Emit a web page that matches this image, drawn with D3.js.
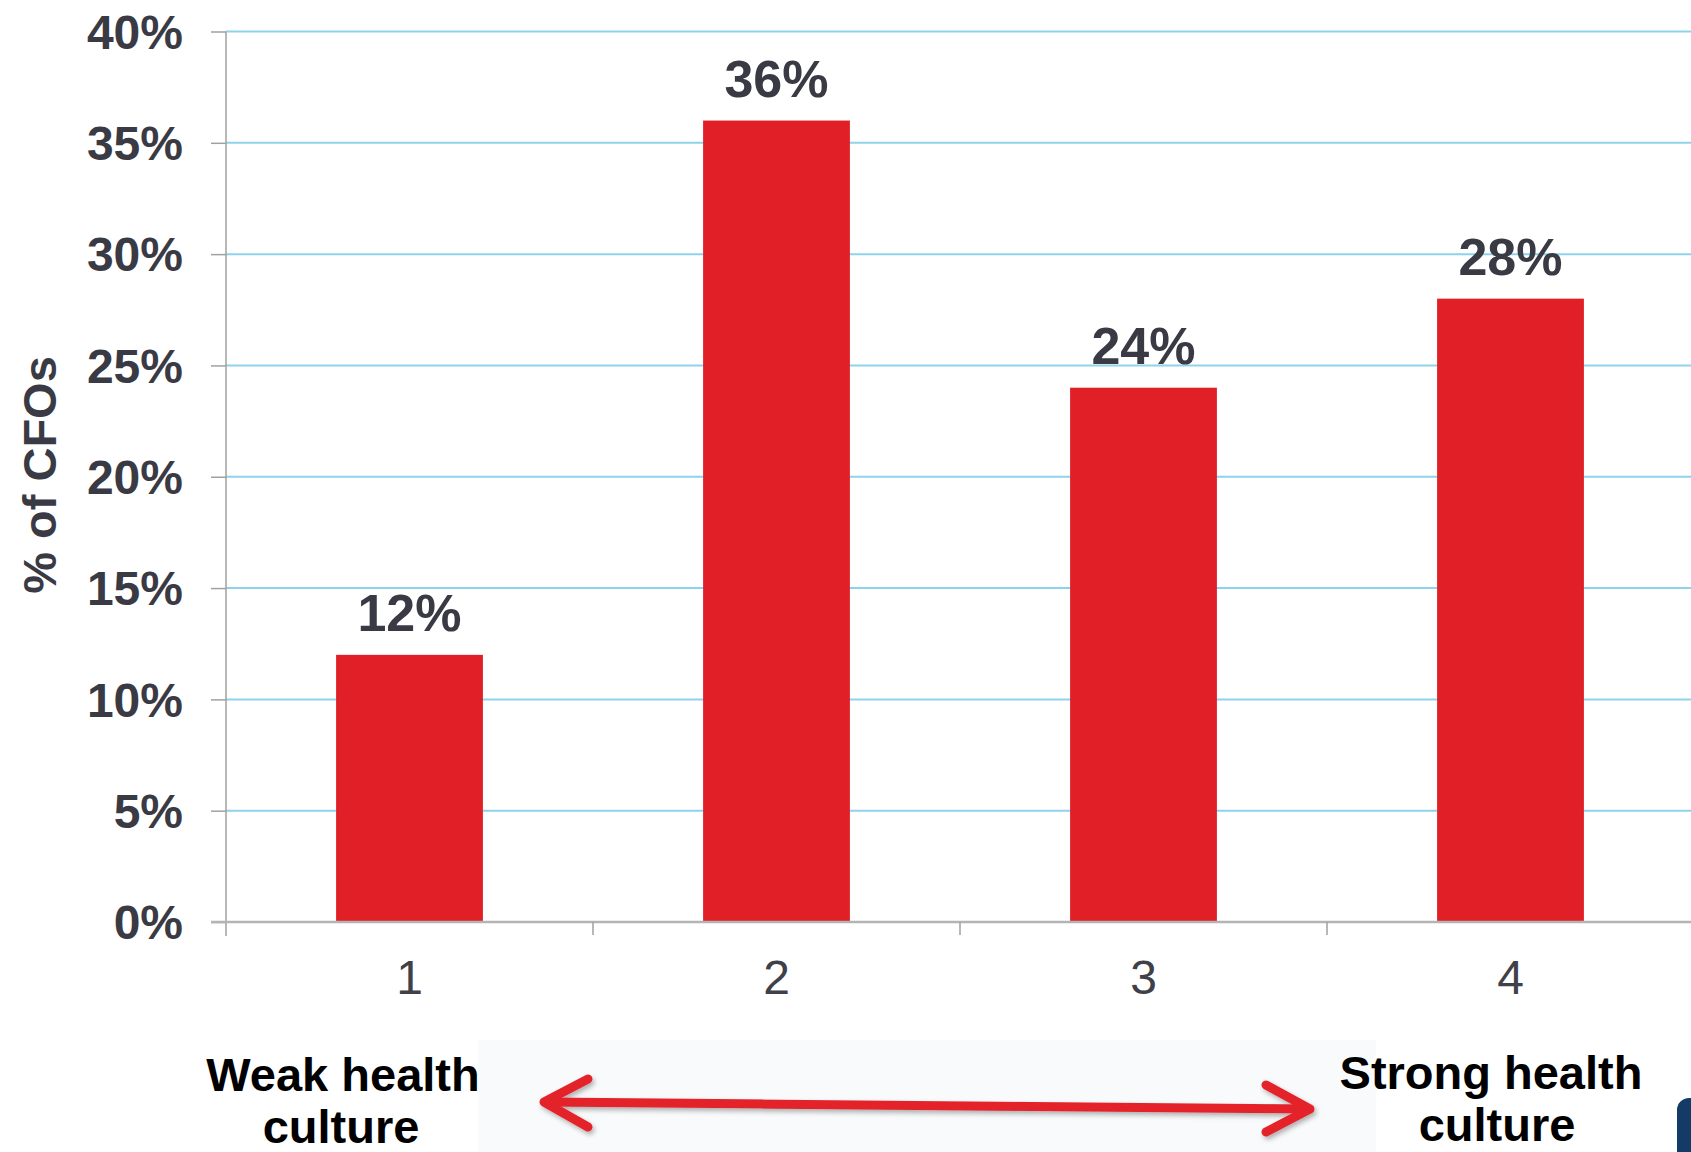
<!DOCTYPE html>
<html>
<head>
<meta charset="utf-8">
<script src="https://cdn.jsdelivr.net/npm/d3@7"></script>
<style>
  html, body { margin: 0; padding: 0; background: #fff; }
  svg { display: block; }
  text { font-family: "Liberation Sans", Arial, Helvetica, sans-serif; }
</style>
</head>
<body>
<script>
// Share of CFOs by health-culture rating (1 = weak, 4 = strong)
const categories = ["1", "2", "3", "4"];
const shares = [0.12, 0.36, 0.24, 0.28];
const yTicks = [0, 0.05, 0.10, 0.15, 0.20, 0.25, 0.30, 0.35, 0.40];
const yTitle = "% of CFOs";
const weakLabel = ["Weak health", "culture"];
const strongLabel = ["Strong health", "culture"];

const W = 1691, H = 1152;
const textDark = "#3a3a44";
const barRed = "#e01f27";

const svg = d3.select("body").append("svg")
  .attr("width", W).attr("height", H);

const defs = svg.append("defs");
const shadow = defs.append("filter").attr("id", "arrowShadow")
  .attr("x", "-10%").attr("y", "-50%").attr("width", "120%").attr("height", "200%");
shadow.append("feDropShadow").attr("dx", 2).attr("dy", 3)
  .attr("stdDeviation", 2.5).attr("flood-color", "#000").attr("flood-opacity", 0.3);

const x = d3.scaleBand()
  .domain(categories)
  .range([226, 1694])
  .paddingInner(0.6)
  .paddingOuter(0.3);

const y = d3.scaleLinear()
  .domain([0, 0.40])
  .range([922, 31.5]);

// Horizontal gridlines
svg.append("g")
  .selectAll("line")
  .data(yTicks.filter(d => d > 0))
  .join("line")
  .attr("x1", 226).attr("x2", W)
  .attr("y1", d => y(d)).attr("y2", d => y(d))
  .attr("stroke", "#8dd3ec")
  .attr("stroke-width", 2);

// Bars
svg.append("g")
  .selectAll("rect")
  .data(shares)
  .join("rect")
  .attr("x", (d, i) => x(categories[i]))
  .attr("width", x.bandwidth())
  .attr("y", d => y(d))
  .attr("height", d => y(0) - y(d))
  .attr("fill", barRed);

// Y axis
const yAxis = svg.append("g")
  .attr("transform", "translate(226,0)")
  .call(d3.axisLeft(y)
    .tickValues(yTicks)
    .tickFormat(d3.format(".0%"))
    .tickSize(15)
    .tickPadding(28));
yAxis.select(".domain")
  .attr("d", `M0,${y(0.40)}V${y(0) + 14}`)
  .attr("stroke", "#a0a0a0").attr("stroke-width", 1.5);
yAxis.selectAll(".tick line").attr("stroke", "#a0a0a0").attr("stroke-width", 1.5);
yAxis.selectAll(".tick text")
  .attr("fill", textDark)
  .attr("font-size", 48)
  .attr("font-weight", "bold")
  .attr("dy", "0.35em");

// X axis baseline, category ticks and labels
const xAxis = svg.append("g")
  .attr("transform", `translate(0,${y(0)})`)
  .call(d3.axisBottom(x).tickSize(0).tickPadding(0));
xAxis.select(".domain").remove();
xAxis.append("line")
  .attr("x1", 211).attr("x2", W).attr("y1", 0).attr("y2", 0)
  .attr("stroke", "#b4b4b4").attr("stroke-width", 2.5);
xAxis.selectAll(".sep")
  .data(categories.slice(1))
  .join("line")
  .attr("class", "sep")
  .attr("x1", d => x(d) - x.step() * x.paddingInner() / 2)
  .attr("x2", d => x(d) - x.step() * x.paddingInner() / 2)
  .attr("y1", 0).attr("y2", 13)
  .attr("stroke", "#a0a0a0").attr("stroke-width", 1.5);
xAxis.selectAll(".tick text")
  .attr("fill", "#404048")
  .attr("font-size", 48)
  .attr("y", 55)
  .attr("dy", "0.35em");

// Value labels above bars
svg.append("g")
  .selectAll("text")
  .data(shares)
  .join("text")
  .attr("x", (d, i) => x(categories[i]) + x.bandwidth() / 2)
  .attr("y", d => y(d) - 42)
  .attr("dy", "0.35em")
  .attr("text-anchor", "middle")
  .attr("font-size", 52)
  .attr("font-weight", "bold")
  .attr("fill", textDark)
  .text(d => d3.format(".0%")(d));

// Y axis title
svg.append("text")
  .attr("transform", "translate(40,475) rotate(-90)")
  .attr("text-anchor", "middle")
  .attr("dy", "0.35em")
  .attr("font-size", 47)
  .attr("font-weight", "bold")
  .attr("fill", textDark)
  .text(yTitle);

// Scale annotation: weak <-> strong
svg.append("rect")
  .attr("x", 478).attr("y", 1040).attr("width", 898).attr("height", H - 1040)
  .attr("fill", "#f9fafb");

const arrow = svg.append("g")
  .attr("fill", "none")
  .attr("stroke", "#e3242b")
  .attr("stroke-width", 9)
  .attr("stroke-linecap", "round")
  .attr("stroke-linejoin", "round")
  .attr("filter", "url(#arrowShadow)");
arrow.append("path").attr("d", "M546,1102 L1308,1109");
arrow.append("path").attr("d", "M588,1079 L544,1102 L588,1127");
arrow.append("path").attr("d", "M1266,1085 L1310,1109 L1266,1132");

function twoLine(lines, xs, baseline) {
  const t = svg.append("text")
    .attr("text-anchor", "middle")
    .attr("font-size", 47)
    .attr("font-weight", "bold")
    .attr("fill", "#000");
  lines.forEach((s, i) => {
    t.append("tspan").attr("x", xs[i]).attr("y", baseline + i * 52).text(s);
  });
}
twoLine(weakLabel, [343, 341], 1091);
twoLine(strongLabel, [1491, 1497], 1089);

// Corner tab
svg.append("rect")
  .attr("x", 1677).attr("y", 1098).attr("width", 40).attr("height", 80)
  .attr("rx", 12)
  .attr("fill", "#143a66");
</script>
</body>
</html>
